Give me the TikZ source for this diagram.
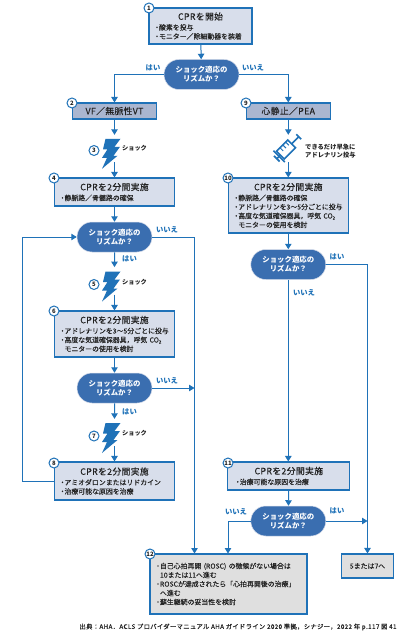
\documentclass[tikz,border=0pt]{standalone}
\usepackage{fontspec}
\setmainfont{Noto Sans CJK JP}
\newfontfamily\medf{Noto Sans CJK JP}[FakeBold=0.25]
\newfontfamily\ttlf{Noto Sans CJK JP}[FakeBold=0.25,LetterSpace=4]
\newfontfamily\srcf{Noto Sans CJK JP}[FakeBold=0.25,LetterSpace=5.5]
\newfontfamily\semif{Noto Sans CJK JP}[FakeBold=0.12]
\usetikzlibrary{arrows.meta,shapes.misc}
\definecolor{linecol}{HTML}{1F72B8}
\definecolor{deccol}{HTML}{3A6EB0}
\definecolor{paleb}{HTML}{D8DEEB}
\definecolor{midb}{HTML}{AAB6D0}
\definecolor{grayb}{HTML}{DFDFDF}
\definecolor{inkc}{HTML}{222222}
\newcommand{\ttl}[1]{\makebox[\linewidth][c]{\fontsize{8.8}{10}\ttlf #1}\\[1.2pt]}
\newcommand{\COtwo}{CO\raisebox{-1.2pt}{\fontsize{4.5}{5}\selectfont 2}}
\newcommand{\bul}{\makebox[4pt][c]{・}}
\tikzset{
  x=1pt,y=-1pt,
  bx/.style={draw=linecol,line width=1.1pt,inner xsep=6pt,inner ysep=0pt,align=left,text=inkc,
    font=\fontsize{6.9}{9}\semif,anchor=center},
  pale/.style={bx,fill=paleb},
  hdr/.style={bx,fill=midb,align=center,font=\fontsize{8.8}{10}\ttlf},
  grayx/.style={bx,fill=grayb},
  dec/.style={rounded rectangle,fill=deccol,draw=paleb,line width=.5pt,text=white,align=center,inner sep=0pt,
    minimum width=75pt,minimum height=30pt,font=\fontsize{7.4}{9.2}\selectfont\bfseries},
  num/.style={circle,draw=linecol,fill=white,line width=1pt,minimum size=10pt,inner sep=0pt,text=inkc,
    font=\fontsize{6}{6}\selectfont\bfseries},
  yn/.style={text=linecol,inner sep=0pt,font=\fontsize{7.3}{9}\selectfont\bfseries},
  shock/.style={text=inkc,inner sep=0pt,font=\fontsize{6.2}{8}\selectfont\bfseries},
  slot/.style={inner sep=0pt,minimum width=4pt,minimum height=27pt},
  conn/.style={draw=linecol,line width=1pt},
  arr/.style={conn,-{Triangle[width=6.5pt,length=5.5pt]}},
  boltpart/.style={fill=linecol},
}
\newcommand{\boltat}[2]{\fill[boltpart,shift={(#1,#2)}] (-5.5,-14.5)--(9.5,-14.5)--(3.5,-6.5)--(9,-6.5)--(2.5,2.5)--(6.5,2.5)--(-9,15.5)--(-4,4.5)--(-9,4.5)--(-3.5,-4)--(-8,-4)--cycle;}
\begin{document}
\begin{tikzpicture}
\useasboundingbox (0,0) rectangle (417,636);
\fill[white] (0,0) rectangle (417,636);

% boxes
\node[pale,text width=91pt,minimum height=36pt] (b1) at (200.5,26) {\ttl{CPRを開始}\bul 酸素を投与\\\bul モニター／除細動器を装着};
\node[dec] (d1) at (201.5,74.5) {ショック適応の\\リズムか？};
\node[hdr,minimum width=84pt,minimum height=16pt] (b2) at (114.5,111) {VF／無脈性VT};
\node[hdr,minimum width=84pt,minimum height=16pt] (b9) at (288.3,111) {心静止／PEA};
\node[slot] (s3) at (114.5,148.5) {};
\node[slot] (sy) at (288.3,148.5) {};
\node[pale,text width=108pt,minimum height=28pt] (b4) at (114.5,192) {\ttl{CPRを2分間実施}\bul 静脈路／骨髄路の確保};
\node[pale,text width=108pt,minimum height=55pt] (b10) at (288.3,205.5) {\ttl{CPRを2分間実施}\bul 静脈路／骨髄路の確保\\\bul アドレナリンを3～5分ごとに投与\\\bul 高度な気道確保器具，呼気 \COtwo\\\hspace*{4pt}モニターの使用を検討};
\node[dec] (d2) at (114.5,237) {ショック適応の\\リズムか？};
\node[dec] (dr) at (288.3,264.5) {ショック適応の\\リズムか？};
\node[slot] (s5) at (114.5,280.8) {};
\node[pale,text width=108pt,minimum height=46pt] (b6) at (114.5,334) {\ttl{CPRを2分間実施}\bul アドレナリンを3～5分ごとに投与\\\bul 高度な気道確保器具，呼気 \COtwo\\\hspace*{4pt}モニターの使用を検討};
\node[dec] (d3) at (114.5,388) {ショック適応の\\リズムか？};
\node[slot] (s7) at (114.5,432.5) {};
\node[pale,text width=108pt,minimum height=38pt] (b8) at (114.5,481) {\ttl{CPRを2分間実施}\bul アミオダロンまたはリドカイン\\\bul 治療可能な原因を治療};
\node[pale,text width=110pt,minimum height=28pt] (b11) at (288.8,476) {\ttl{CPRを2分間実施}\hspace*{2pt}\bul 治療可能な原因を治療};
\node[dec] (d4) at (288.3,521) {ショック適応の\\リズムか？};
\node[grayx,text width=145pt,minimum height=60pt] (b12) at (228.5,584) {\bul 自己心拍再開 (ROSC) の徴候がない場合は\\\hspace*{4pt}10または11へ進む\\\bul ROSCが達成されたら「心拍再開後の治療」\\\hspace*{4pt}へ進む\\\bul 蘇生継続の妥当性を検討};
\node[grayx,text width=40pt,minimum height=24pt,align=center] (b57) at (367.5,566) {5または7へ};

% free connector ends
\coordinate (r12) at (194.5,553.5);
\coordinate (r3) at (194.5,388);
\coordinate (l12) at (228,553.5);
\coordinate (rr) at (367.5,521);
\coordinate (loop) at (22.5,481);

% connectors
\draw[arr] (b1) -- (d1);
\draw[arr] (d1.west) -| (b2.north);
\draw[arr] (d1.east) -| (b9.north);
\draw[arr] (b2) -- (s3);
\draw[arr] (b9) -- (sy);
\draw[arr] (s3) -- (b4);
\draw[arr] (sy) -- (b10);
\draw[arr] (b4) -- (d2);
\draw[arr] (b10) -- (dr);
\draw[arr] (d2) -- (s5);
\draw[arr] (s5) -- (b6);
\draw[arr] (b6) -- (d3);
\draw[arr] (d3) -- (s7);
\draw[arr] (s7) -- (b8);
\draw[arr] (b8.west) -- (loop) |- (d2.west);
\draw[arr] (d2.east) -| (r12);
\draw[arr] (d3.east) -- (r3);
\draw[arr] (dr.south) -- (b11.north -| dr.south);
\draw[arr] (b11) -- (d4);
\draw[arr] (dr.east) -| (b57.north);
\draw[arr] (d4.east) -- (rr);
\draw[arr] (d4.west) -| (l12);

% lightning bolts
\boltat{111}{153.3}
\boltat{111}{286}
\boltat{111}{437.5}

% syringe
\begin{scope}[shift={(286,149.5)},rotate=45,draw=linecol,line width=1.6pt]
  \draw (-8,-5.5) rectangle (8,5.5);
  \draw (-8,0) -- (-13,0) (-13,-4) -- (-13,4);
  \draw (-9.8,-8) -- (-9.8,8);
  \draw (8,0) -- (18,0) (18,-3.5) -- (18,3.5);
  \draw[line width=1pt] (-3,-5.5) -- (-3,-1) (1,-5.5) -- (1,-1) (5,-5.5) -- (5,-1);
\end{scope}

% numbers
\node[num] (n1) at (149,8) {1};
\node[num] (n2) at (72,103) {2};
\node[num] (n9) at (246,103) {9};
\node[num] (n3) at (94,150.5) {3};
\node[num] (n4) at (54,178) {4};
\node[num] (n10) at (228,178) {10};
\node[num] (n5) at (94,284.5) {5};
\node[num] (n6) at (54,311) {6};
\node[num] (n7) at (94,436) {7};
\node[num] (n8) at (54,463) {8};
\node[num] (n11) at (228,463) {11};
\node[num] (n12) at (150,554) {12};

% yes/no labels
\node[yn] (y1) at (153,68) {はい};
\node[yn] (y2) at (253,68) {いいえ};
\node[yn] (y3) at (167,230) {いいえ};
\node[yn] (y4) at (129.5,259) {はい};
\node[yn] (y5) at (167,380.5) {いいえ};
\node[yn] (y6) at (129.5,411.5) {はい};
\node[yn] (y7) at (337,256.5) {はい};
\node[yn] (y8) at (304,292.5) {いいえ};
\node[yn] (y9) at (236,512) {いいえ};
\node[yn] (y10) at (337,511) {はい};

% shock labels
\node[shock] (k3) at (134.5,148.5) {ショック};
\node[shock] (k5) at (134.5,282) {ショック};
\node[shock] (k7) at (134.5,433.5) {ショック};
\node[shock,align=left,anchor=west,font=\fontsize{6.3}{7.8}\selectfont\bfseries] (kd) at (305,151) {できるだけ早急に\\アドレナリン投与};

% source
\node[text=inkc,inner sep=0pt,font=\fontsize{6.3}{7}\srcf] (src) at (238,627) {出典：AHA．ACLS プロバイダーマニュアル AHA ガイドライン 2020 準拠，シナジー，2022 年 p.117 図 41};
\end{tikzpicture}
\end{document}
